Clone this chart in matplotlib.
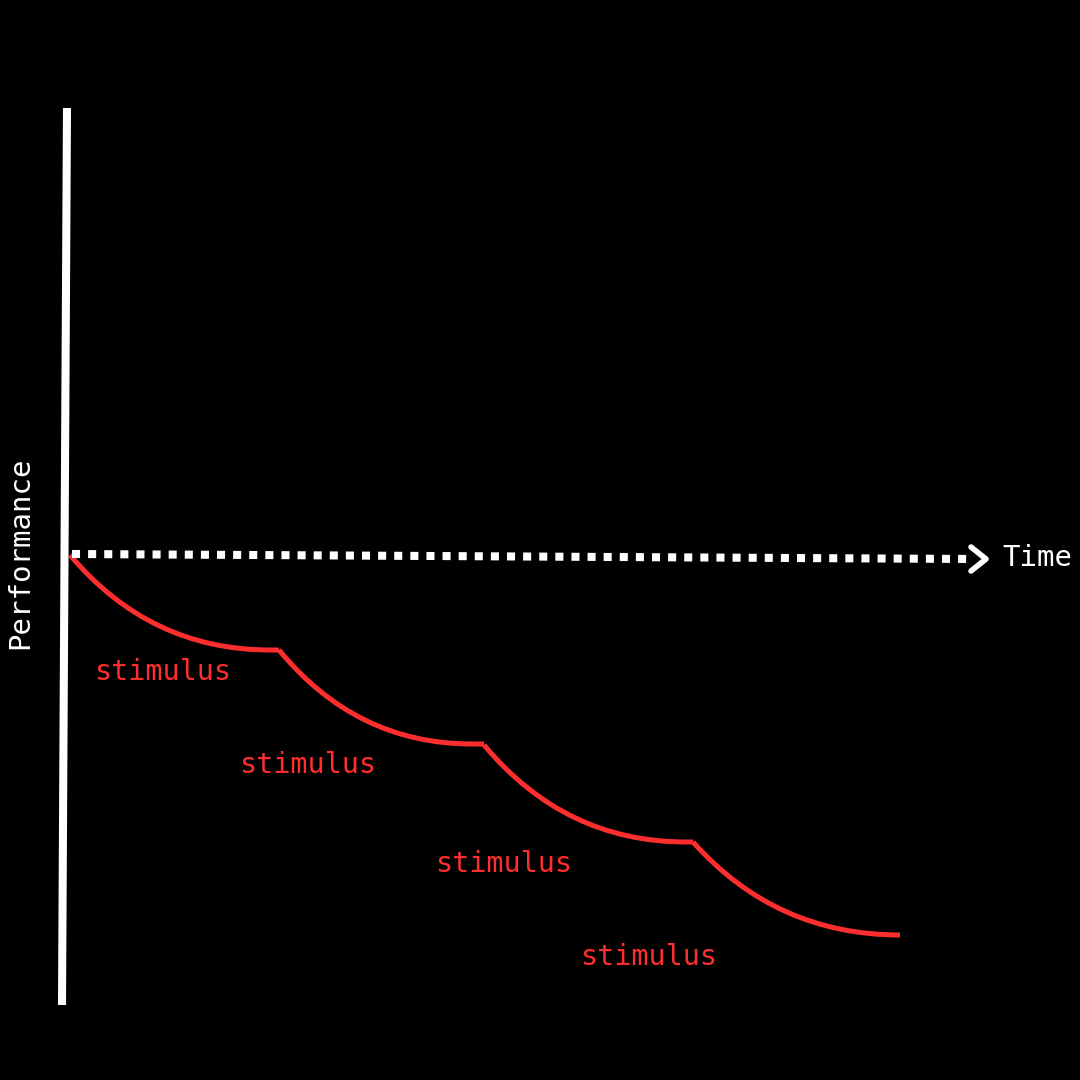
import matplotlib.pyplot as plt
from matplotlib.path import Path
from matplotlib.patches import PathPatch

# chart drawn in pixel-like units (x right, y down)
axis_top = (67, 108)
axis_bottom = (62, 1005)
baseline_start = (72, 554)
baseline_end = (972, 559)

# each decay segment: start point, end point, end of short flat part
seg_starts = [(70, 555), (279, 650), (484, 745), (693, 842)]
seg_ends = [(270, 650), (472, 744), (686, 842), (900, 935)]
flat_ends = [279, 484, 693, 900]
label_pos = [(163, 672), (308, 765), (504, 864), (649, 957)]
label_text = 'stimulus'

red = '#ff2e2e'
mono = ['DejaVu Sans Mono']

fig = plt.figure(figsize=(10.8, 10.8), dpi=100, facecolor='black')
ax = fig.add_axes([0, 0, 1, 1])
ax.set_facecolor('black')
ax.set_xlim(0, 1080)
ax.set_ylim(1080, 0)
ax.axis('off')

# vertical axis
ax.plot([axis_top[0], axis_bottom[0]], [axis_top[1], axis_bottom[1]],
        color='white', lw=5.8, solid_capstyle='butt')

# dotted time axis
ax.plot([baseline_start[0], baseline_end[0]], [baseline_start[1], baseline_end[1]],
        color='white', lw=5.8, linestyle=(0, (1, 1)), dash_capstyle='butt')
ax.plot([971, 986, 971], [547, 559, 571], color='white', lw=4,
        solid_capstyle='round', solid_joinstyle='round')

# decay curves (quadratic bezier each)
for (x0, y0), (x1, y1), xf in zip(seg_starts, seg_ends, flat_ends):
    ctrl = (x0 + 0.4 * (x1 - x0), y1)
    verts = [(x0, y0), ctrl, (x1, y1), (xf, y1)]
    codes = [Path.MOVETO, Path.CURVE3, Path.CURVE3, Path.LINETO]
    ax.add_patch(PathPatch(Path(verts, codes), facecolor='none',
                           edgecolor=red, lw=3.6, joinstyle='miter'))

for x, y in label_pos:
    ax.text(x, y, label_text, color=red, fontsize=20.5, family=mono,
            ha='center', va='center')

ax.text(20, 553, 'Performance', color='white', fontsize=21, family=mono,
        rotation=90, ha='center', va='center')
ax.text(1002, 558, 'Time', color='white', fontsize=21, family=mono,
        ha='left', va='center')

fig.savefig('out.png', dpi=100, facecolor='black')
